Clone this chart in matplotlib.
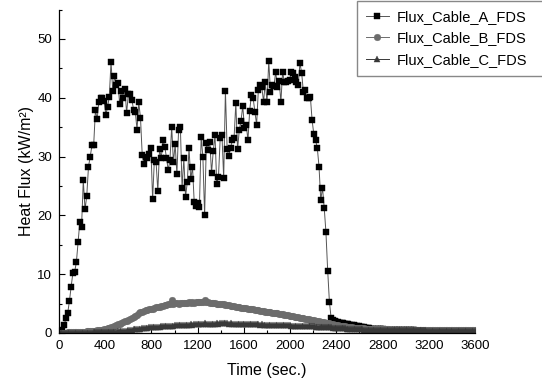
import numpy as np
import matplotlib
matplotlib.use("Agg")
import matplotlib.pyplot as plt
from matplotlib.ticker import MultipleLocator

plt.rcParams['font.family'] = ['Liberation Sans', 'DejaVu Sans']

# heat flux readings, one every 15 s from 0 to 3600 s
flux_a = [
    0.0, 0.2, 0.5, 1.4, 2.5, 3.4, 5.4, 7.9, 10.2, 10.4,
    12.0, 15.5, 18.9, 18.1, 26.0, 21.0, 23.3, 28.3, 30.0, 31.9,
    32.0, 37.9, 36.4, 39.3, 39.9, 39.9, 39.5, 37.1, 38.4, 40.2,
    46.1, 41.2, 43.7, 42.2, 42.5, 38.9, 41.2, 39.9, 41.5, 37.4,
    40.6, 40.6, 39.7, 38.0, 37.6, 34.6, 39.2, 36.6, 30.3, 28.7,
    29.9, 29.7, 30.4, 31.5, 22.7, 29.4, 29.1, 24.1, 31.2, 29.8,
    32.8, 31.7, 29.8, 27.7, 29.4, 35.1, 29.0, 32.1, 27.0, 34.6,
    35.1, 24.6, 29.7, 23.2, 25.6, 31.4, 26.1, 28.3, 22.2, 21.6,
    22.1, 21.4, 33.3, 30.0, 20.0, 32.3, 31.1, 32.5, 27.2, 31.0,
    33.6, 25.3, 26.6, 33.2, 33.7, 26.3, 41.2, 31.2, 30.1, 31.5,
    32.8, 33.2, 39.1, 31.2, 34.5, 36.1, 38.6, 34.8, 35.4, 32.8,
    37.8, 40.5, 39.9, 37.6, 35.4, 41.4, 42.2, 41.8, 39.3, 42.6,
    39.2, 46.3, 40.9, 42.2, 42.0, 44.4, 41.9, 42.9, 39.3, 44.4,
    42.7, 42.7, 42.9, 43.0, 44.4, 44.2, 43.6, 42.7, 42.2, 45.9,
    44.2, 40.9, 41.4, 39.9, 39.9, 40.2, 36.2, 33.8, 32.8, 31.5,
    28.3, 22.6, 24.7, 21.3, 17.1, 10.6, 5.3, 2.5, 2.25, 2.05,
    1.9, 1.82, 1.75, 1.68, 1.62, 1.56, 1.5, 1.45, 1.4, 1.35,
    1.3, 1.25, 1.18, 1.12, 1.06, 1.0, 0.95, 0.9, 0.85, 0.8,
    0.76, 0.73, 0.7, 0.68, 0.66, 0.64, 0.62, 0.6, 0.58, 0.57,
    0.56, 0.55, 0.54, 0.53, 0.52, 0.51, 0.5, 0.49, 0.48, 0.47,
    0.46, 0.45, 0.45, 0.44, 0.43, 0.43, 0.42, 0.41, 0.41, 0.4,
    0.4, 0.39, 0.39, 0.38, 0.38, 0.37, 0.37, 0.36, 0.36, 0.35,
    0.35, 0.35, 0.34, 0.34, 0.33, 0.33, 0.33, 0.32, 0.32, 0.32,
    0.31, 0.31, 0.31, 0.3, 0.3, 0.3, 0.3, 0.29, 0.29, 0.29,
    0.29,
]

flux_b = [
    0.0, 0.02, 0.04, 0.06, 0.08, 0.1, 0.11, 0.12, 0.13, 0.14,
    0.15, 0.16, 0.18, 0.2, 0.22, 0.24, 0.26, 0.28, 0.3, 0.33,
    0.36, 0.39, 0.43, 0.47, 0.52, 0.57, 0.63, 0.7, 0.78, 0.88,
    0.98, 1.08, 1.2, 1.32, 1.45, 1.58, 1.72, 1.85, 1.98, 2.12,
    2.28, 2.45, 2.6, 2.75, 2.92, 3.1, 3.32, 3.5, 3.62, 3.72,
    3.85, 3.9, 4.02, 4.12, 4.08, 4.25, 4.35, 4.42, 4.5, 4.58,
    4.66, 4.7, 4.8, 4.86, 4.9, 5.55, 4.98, 5.02, 5.08, 5.0,
    5.1, 5.05, 5.12, 5.18, 5.1, 5.2, 5.15, 5.22, 5.18, 5.25,
    5.2, 5.28, 5.22, 5.3, 5.6, 5.25, 5.2, 5.15, 5.18, 5.1,
    5.05, 5.0, 4.95, 4.98, 4.9, 4.85, 4.82, 4.75, 4.7, 4.62,
    4.58, 4.55, 4.48, 4.45, 4.38, 4.32, 4.3, 4.25, 4.2, 4.15,
    4.12, 4.05, 4.0, 3.95, 3.9, 3.88, 3.82, 3.75, 3.72, 3.65,
    3.6, 3.55, 3.5, 3.48, 3.42, 3.38, 3.32, 3.28, 3.22, 3.18,
    3.12, 3.05, 3.0, 2.95, 2.9, 2.85, 2.8, 2.75, 2.68, 2.62,
    2.58, 2.52, 2.45, 2.4, 2.35, 2.28, 2.22, 2.15, 2.1, 2.05,
    1.98, 1.92, 1.86, 1.8, 1.74, 1.68, 1.62, 1.56, 1.5, 1.44,
    1.38, 1.32, 1.27, 1.22, 1.17, 1.12, 1.08, 1.04, 1.0, 0.96,
    0.93, 0.9, 0.87, 0.84, 0.81, 0.79, 0.77, 0.75, 0.73, 0.71,
    0.7, 0.68, 0.67, 0.66, 0.65, 0.64, 0.63, 0.62, 0.61, 0.6,
    0.6, 0.59, 0.58, 0.58, 0.57, 0.57, 0.56, 0.56, 0.55, 0.55,
    0.55, 0.54, 0.54, 0.53, 0.53, 0.53, 0.52, 0.52, 0.52, 0.51,
    0.51, 0.51, 0.5, 0.5, 0.5, 0.5, 0.49, 0.49, 0.49, 0.49,
    0.48, 0.48, 0.48, 0.48, 0.47, 0.47, 0.47, 0.47, 0.47, 0.46,
    0.46, 0.46, 0.46, 0.46, 0.45, 0.45, 0.45, 0.45, 0.45, 0.45,
    0.45,
]

flux_c = [
    0.0, 0.01, 0.01, 0.02, 0.02, 0.03, 0.03, 0.03, 0.04, 0.04,
    0.04, 0.05, 0.05, 0.05, 0.06, 0.06, 0.07, 0.07, 0.08, 0.08,
    0.09, 0.09, 0.1, 0.1, 0.11, 0.12, 0.13, 0.14, 0.15, 0.16,
    0.18, 0.2, 0.22, 0.24, 0.26, 0.29, 0.32, 0.35, 0.38, 0.42,
    0.46, 0.5, 0.55, 0.6, 0.64, 0.68, 0.72, 0.76, 0.8, 0.84,
    0.88, 0.92, 0.95, 0.98, 1.0, 1.03, 1.05, 1.08, 1.1, 1.12,
    1.15, 1.17, 1.2, 1.22, 1.18, 1.25, 1.27, 1.3, 1.28, 1.32,
    1.35, 1.33, 1.37, 1.4, 1.38, 1.42, 1.45, 1.43, 1.48, 1.46,
    1.5, 1.52, 1.48, 1.55, 1.65, 1.53, 1.56, 1.58, 1.55, 1.6,
    1.58, 1.62, 1.6, 1.64, 1.75, 1.62, 1.65, 1.63, 1.6, 1.62,
    1.6, 1.58, 1.6, 1.57, 1.55, 1.56, 1.53, 1.55, 1.52, 1.5,
    1.52, 1.48, 1.5, 1.47, 1.45, 1.46, 1.43, 1.45, 1.42, 1.4,
    1.42, 1.4, 1.38, 1.4, 1.37, 1.35, 1.36, 1.33, 1.35, 1.32,
    1.3, 1.32, 1.28, 1.3, 1.27, 1.25, 1.27, 1.24, 1.22, 1.24,
    1.2, 1.22, 1.18, 1.17, 1.15, 1.16, 1.13, 1.12, 1.1, 1.1,
    1.08, 1.06, 1.05, 1.03, 1.0, 0.98, 0.96, 0.94, 0.92, 0.9,
    0.88, 0.86, 0.84, 0.82, 0.8, 0.78, 0.76, 0.74, 0.72, 0.7,
    0.68, 0.66, 0.65, 0.63, 0.62, 0.6, 0.59, 0.58, 0.57, 0.56,
    0.55, 0.54, 0.53, 0.53, 0.52, 0.51, 0.51, 0.5, 0.5, 0.49,
    0.49, 0.48, 0.48, 0.47, 0.47, 0.47, 0.46, 0.46, 0.46, 0.45,
    0.45, 0.45, 0.45, 0.44, 0.44, 0.44, 0.44, 0.43, 0.43, 0.43,
    0.43, 0.43, 0.42, 0.42, 0.42, 0.42, 0.42, 0.41, 0.41, 0.41,
    0.41, 0.41, 0.41, 0.4, 0.4, 0.4, 0.4, 0.4, 0.4, 0.4,
    0.4, 0.39, 0.39, 0.39, 0.39, 0.39, 0.39, 0.39, 0.38, 0.38,
    0.38,
]

time_s = np.arange(len(flux_a)) * 15

series = [
    ("Flux_Cable_A_FDS", flux_a, "s", 3.8, "#000000", "#555555"),
    ("Flux_Cable_B_FDS", flux_b, "o", 4.8, "#6c6c6c", "#6c6c6c"),
    ("Flux_Cable_C_FDS", flux_c, "^", 4.6, "#383838", "#383838"),
]

fig = plt.figure(figsize=(5.42, 3.81), dpi=100)
ax = fig.add_axes([0.1089, 0.126, 0.7675, 0.849])

for name, vals, mk, ms, mcol, lcol in series:
    ax.plot(time_s, vals, color=lcol, lw=0.7, marker=mk, ms=ms,
            mfc=mcol, mec=mcol, mew=0.3, label=name)

ax.set_xlim(0, 3600)
ax.set_ylim(0, 55)
ax.xaxis.set_major_locator(MultipleLocator(400))
ax.xaxis.set_minor_locator(MultipleLocator(200))
ax.yaxis.set_major_locator(MultipleLocator(10))
ax.yaxis.set_minor_locator(MultipleLocator(5))

ax.spines['top'].set_visible(False)
ax.spines['right'].set_visible(False)
for s in ('left', 'bottom'):
    ax.spines[s].set_linewidth(0.9)

ax.tick_params(which='both', direction='in', top=False, right=False, labelsize=9.5, width=0.8)
ax.tick_params(which='major', length=4, pad=5)
ax.tick_params(which='minor', length=2.5)

ax.set_xlabel("Time (sec.)", fontsize=11.5, labelpad=8)
ax.set_ylabel("Heat Flux (kW/m²)", fontsize=11.5, labelpad=2)

# legend box runs off the right edge of the figure, as in the original
leg = ax.legend(loc='upper left', bbox_to_anchor=(357 / 542, 1 - 1 / 381, 200 / 542, 0),
                bbox_transform=fig.transFigure, mode='expand', fontsize=10.5,
                frameon=True, fancybox=False, edgecolor='#888888', framealpha=1,
                handlelength=1.6, handletextpad=0.5, labelspacing=0.52,
                borderpad=0.6, borderaxespad=0)
leg.get_frame().set_linewidth(1.0)

fig.savefig("out.png", dpi=100)
